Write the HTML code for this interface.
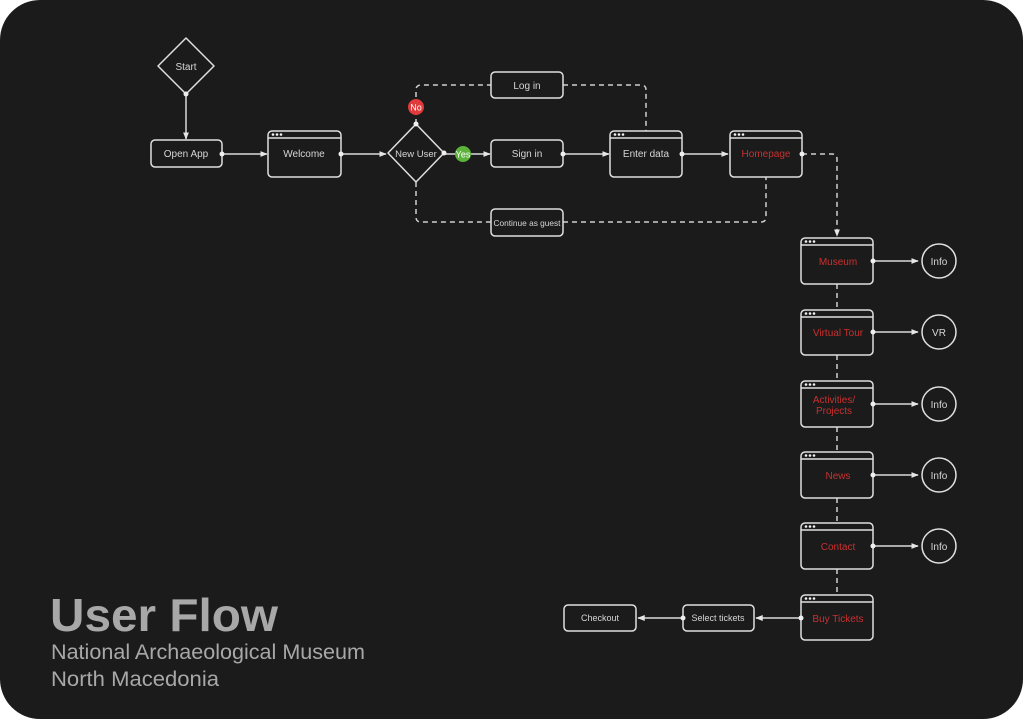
<!DOCTYPE html>
<html><head><meta charset="utf-8">
<style>
html,body{margin:0;padding:0;background:#fff;}
body{width:1024px;height:720px;overflow:hidden;}
svg{display:block;}
text{font-family:"Liberation Sans",sans-serif;}
</style></head>
<body>
<svg width="1024" height="720" viewBox="0 0 1024 720" xmlns="http://www.w3.org/2000/svg">
<defs>
<marker id="ar" viewBox="0 0 10 10" refX="9" refY="5" markerWidth="5" markerHeight="5" orient="auto"><path d="M0,1 L10,5 L0,9 z" fill="#e6e6e6"/></marker>
</defs>
<rect x="0" y="0" width="1023" height="719" rx="40" fill="#1c1b1c"/>

<g stroke="#d9d9d9" stroke-width="1.5" fill="none">
<line x1="186" y1="94" x2="186" y2="139" marker-end="url(#ar)"/>
<line x1="222" y1="154" x2="267" y2="154" marker-end="url(#ar)"/>
<line x1="341" y1="154" x2="386" y2="154" marker-end="url(#ar)"/>
<line x1="443" y1="154" x2="490" y2="154" marker-end="url(#ar)"/>
<line x1="563" y1="154" x2="609" y2="154" marker-end="url(#ar)"/>
<line x1="682" y1="154" x2="728" y2="154" marker-end="url(#ar)"/>
<line x1="873" y1="261" x2="918" y2="261" marker-end="url(#ar)"/>
<line x1="873" y1="332" x2="918" y2="332" marker-end="url(#ar)"/>
<line x1="873" y1="404" x2="918" y2="404" marker-end="url(#ar)"/>
<line x1="873" y1="475" x2="918" y2="475" marker-end="url(#ar)"/>
<line x1="873" y1="546" x2="918" y2="546" marker-end="url(#ar)"/>
<line x1="801" y1="618" x2="756" y2="618" marker-end="url(#ar)"/>
<line x1="683" y1="618" x2="638" y2="618" marker-end="url(#ar)"/>
</g>
<g stroke="#cfcfcf" stroke-width="1.5" fill="none" stroke-dasharray="5,4">
<path d="M416,124 L416,90 Q416,85 421,85 L491,85"/>
<path d="M563,85 L641,85 Q646,85 646,90 L646,131"/>
<path d="M416,182 L416,217 Q416,222 421,222 L491,222"/>
<path d="M563,222 L761,222 Q766,222 766,217 L766,177"/>
<path d="M802,154 L832,154 Q837,154 837,159 L837,236" marker-end="url(#ar)"/>
<line x1="837" y1="284" x2="837" y2="310"/>
<line x1="837" y1="355" x2="837" y2="381"/>
<line x1="837" y1="427" x2="837" y2="452"/>
<line x1="837" y1="498" x2="837" y2="523"/>
<line x1="837" y1="569" x2="837" y2="595"/>
</g>

<g stroke="#e0e0e0" stroke-width="1.5" fill="#1c1b1c">
<path d="M186,38 L214,66 L186,94 L158,66 Z" stroke-linejoin="round"/>
<path d="M416,124 L444,153 L416,182 L388,153 Z" stroke-linejoin="round"/>
<rect x="151" y="140" width="71" height="27" rx="4"/>
<rect x="491" y="72" width="72" height="26" rx="4"/>
<rect x="491" y="140" width="72" height="27" rx="4"/>
<rect x="491" y="209" width="72" height="27" rx="4"/>
<rect x="683" y="605" width="71" height="26" rx="4"/>
<rect x="564" y="605" width="72" height="26" rx="4"/>
<circle cx="939" cy="261" r="17"/>
<circle cx="939" cy="332" r="17"/>
<circle cx="939" cy="404" r="17"/>
<circle cx="939" cy="475" r="17"/>
<circle cx="939" cy="546" r="17"/>
</g>

<g stroke="#e0e0e0" stroke-width="1.5" fill="#1c1b1c">
<rect x="268" y="131" width="73" height="46" rx="4"/><line x1="268" y1="138" x2="341" y2="138"/>
<rect x="610" y="131" width="72" height="46" rx="4"/><line x1="610" y1="138" x2="682" y2="138"/>
<rect x="730" y="131" width="72" height="46" rx="4"/><line x1="730" y1="138" x2="802" y2="138"/>
<rect x="801" y="238" width="72" height="46" rx="4"/><line x1="801" y1="245" x2="873" y2="245"/>
<rect x="801" y="310" width="72" height="45" rx="4"/><line x1="801" y1="317" x2="873" y2="317"/>
<rect x="801" y="381" width="72" height="46" rx="4"/><line x1="801" y1="388" x2="873" y2="388"/>
<rect x="801" y="452" width="72" height="46" rx="4"/><line x1="801" y1="459" x2="873" y2="459"/>
<rect x="801" y="523" width="72" height="46" rx="4"/><line x1="801" y1="530" x2="873" y2="530"/>
<rect x="801" y="595" width="72" height="45" rx="4"/><line x1="801" y1="602" x2="873" y2="602"/>
</g>
<g fill="#f0f0f0">
<circle cx="273" cy="134.5" r="1.3"/><circle cx="277" cy="134.5" r="1.3"/><circle cx="281" cy="134.5" r="1.3"/>
<circle cx="615" cy="134.5" r="1.3"/><circle cx="619" cy="134.5" r="1.3"/><circle cx="623" cy="134.5" r="1.3"/>
<circle cx="735" cy="134.5" r="1.3"/><circle cx="739" cy="134.5" r="1.3"/><circle cx="743" cy="134.5" r="1.3"/>
<circle cx="806" cy="241.5" r="1.3"/><circle cx="810" cy="241.5" r="1.3"/><circle cx="814" cy="241.5" r="1.3"/>
<circle cx="806" cy="313.5" r="1.3"/><circle cx="810" cy="313.5" r="1.3"/><circle cx="814" cy="313.5" r="1.3"/>
<circle cx="806" cy="384.5" r="1.3"/><circle cx="810" cy="384.5" r="1.3"/><circle cx="814" cy="384.5" r="1.3"/>
<circle cx="806" cy="455.5" r="1.3"/><circle cx="810" cy="455.5" r="1.3"/><circle cx="814" cy="455.5" r="1.3"/>
<circle cx="806" cy="526.5" r="1.3"/><circle cx="810" cy="526.5" r="1.3"/><circle cx="814" cy="526.5" r="1.3"/>
<circle cx="806" cy="598.5" r="1.3"/><circle cx="810" cy="598.5" r="1.3"/><circle cx="814" cy="598.5" r="1.3"/>
<circle cx="186" cy="94" r="2.5"/><circle cx="222" cy="154" r="2.5"/><circle cx="341" cy="154" r="2.5"/>
<circle cx="444" cy="153" r="2.5"/><circle cx="416" cy="124" r="2.5"/><circle cx="563" cy="154" r="2.5"/>
<circle cx="682" cy="154" r="2.5"/><circle cx="802" cy="154" r="2.5"/>
<circle cx="873" cy="261" r="2.5"/><circle cx="873" cy="332" r="2.5"/><circle cx="873" cy="404" r="2.5"/>
<circle cx="873" cy="475" r="2.5"/><circle cx="873" cy="546" r="2.5"/>
<circle cx="801" cy="618" r="2.5"/><circle cx="683" cy="618" r="2.5"/>
</g>

<circle cx="416" cy="107" r="8" fill="#e03a3a"/>
<text x="416" y="110.5" font-size="9" fill="#fff" text-anchor="middle">No</text>
<circle cx="463" cy="154" r="8" fill="#5bb33a"/>
<text x="463" y="157.5" font-size="9" fill="#fff" text-anchor="middle">Yes</text>

<g font-size="10" fill="#d6d6d6" text-anchor="middle">
<text x="186" y="70">Start</text>
<text x="186" y="157">Open App</text>
<text x="304" y="157">Welcome</text>
<text x="416" y="157" font-size="9.5">New User</text>
<text x="527" y="89">Log in</text>
<text x="527" y="157">Sign in</text>
<text x="527" y="226" font-size="8.5" textLength="67" lengthAdjust="spacingAndGlyphs">Continue as guest</text>
<text x="646" y="157">Enter data</text>
<text x="718" y="621" font-size="9">Select tickets</text>
<text x="600" y="621" font-size="9">Checkout</text>
<text x="939" y="265">Info</text>
<text x="939" y="336">VR</text>
<text x="939" y="408">Info</text>
<text x="939" y="479">Info</text>
<text x="939" y="550">Info</text>
</g>
<g font-size="10" fill="#c9302f" text-anchor="middle">
<text x="766" y="157">Homepage</text>
<text x="838" y="265">Museum</text>
<text x="838" y="336">Virtual Tour</text>
<text x="834" y="403">Activities/</text>
<text x="834" y="414">Projects</text>
<text x="838" y="479">News</text>
<text x="838" y="550">Contact</text>
<text x="838" y="622">Buy Tickets</text>
</g>

<text x="50" y="631" font-size="46" font-weight="bold" fill="#a8a8a8" textLength="228" lengthAdjust="spacingAndGlyphs">User Flow</text>
<text x="51" y="659" font-size="21" fill="#a8a8a8" textLength="314" lengthAdjust="spacingAndGlyphs">National Archaeological Museum</text>
<text x="51" y="686" font-size="21" fill="#a8a8a8" textLength="168" lengthAdjust="spacingAndGlyphs">North Macedonia</text>
</svg>
</body></html>
